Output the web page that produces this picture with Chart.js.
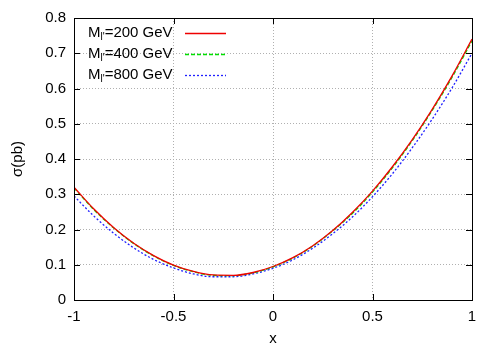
<!DOCTYPE html>
<html>
<head>
<meta charset="utf-8">
<script src="https://cdn.jsdelivr.net/npm/chart.js@4.4.1/dist/chart.umd.min.js"></script>
<style>
  html, body { margin: 0; padding: 0; background: #fff; }
  #chart { display: block; }
</style>
</head>
<body>
<canvas id="chart" width="500" height="350"></canvas>
<script>
// values
const xValues = [-1, -0.9, -0.8, -0.7, -0.6, -0.5, -0.4, -0.3, -0.2, -0.1, 0,
                 0.1, 0.2, 0.3, 0.4, 0.5, 0.6, 0.7, 0.8, 0.9, 1];
const sigma200 = [0.320, 0.258, 0.205, 0.161, 0.126, 0.099, 0.081, 0.071, 0.070, 0.078, 0.095,
                  0.120, 0.154, 0.197, 0.249, 0.309, 0.378, 0.455, 0.541, 0.636, 0.740];
const sigma400 = [0.318, 0.256, 0.204, 0.160, 0.125, 0.098, 0.080, 0.070, 0.069, 0.077, 0.094,
                  0.119, 0.153, 0.196, 0.246, 0.306, 0.375, 0.452, 0.538, 0.632, 0.735];
const sigma800 = [0.295, 0.238, 0.189, 0.148, 0.115, 0.091, 0.074, 0.066, 0.066, 0.074, 0.090,
                  0.114, 0.147, 0.188, 0.236, 0.293, 0.358, 0.432, 0.513, 0.602, 0.700];
const massLabels = ['200', '400', '800'];
const xTicks = [-1, -0.5, 0, 0.5, 1];
const yTicks = [0, 0.1, 0.2, 0.3, 0.4, 0.5, 0.6, 0.7, 0.8];

const FONT = '"Liberation Sans", Arial, sans-serif';
const colors = ['#ee0000', '#00e000', '#2020ff'];
const dashes = [[], [4, 2], [2, 2]];

function toPoints(ys) {
    return xValues.map((x, i) => ({ x: x, y: ys[i] }));
}

// frame, inner tick marks, legend and axis titles (gnuplot look)
const gnuplotDecor = {
    id: 'gnuplotDecor',
    afterDraw(chart) {
        const ctx = chart.ctx;
        const a = chart.chartArea;
        const xs = chart.scales.x, ys = chart.scales.y;
        ctx.save();
        ctx.strokeStyle = '#000';
        ctx.lineWidth = 1;
        ctx.setLineDash([]);
        ctx.beginPath();
        xTicks.forEach(v => {
            const px = Math.round(xs.getPixelForValue(v)) + 0.5;
            ctx.moveTo(px, a.bottom); ctx.lineTo(px, a.bottom - 6);
            ctx.moveTo(px, a.top); ctx.lineTo(px, a.top + 6);
        });
        yTicks.forEach(v => {
            const py = Math.round(ys.getPixelForValue(v)) + 0.5;
            ctx.moveTo(a.left, py); ctx.lineTo(a.left + 6, py);
            ctx.moveTo(a.right, py); ctx.lineTo(a.right - 6, py);
        });
        ctx.stroke();
        ctx.strokeRect(Math.round(a.left) + 0.5, Math.round(a.top) + 0.5,
                       Math.round(a.right - a.left), Math.round(a.bottom - a.top));

        // legend
        ctx.fillStyle = '#000';
        ctx.textBaseline = 'middle';
        massLabels.forEach((m, i) => {
            const y = 33 + i * 21;
            let x = 88;
            ctx.font = '15px ' + FONT;
            ctx.fillText('M', x, y);
            x += ctx.measureText('M').width;
            ctx.font = '10px ' + FONT;
            ctx.fillText("l'", x, y + 4);
            x += ctx.measureText("l'").width;
            ctx.font = '15px ' + FONT;
            ctx.fillText('=' + m + ' GeV', x, y);

            ctx.strokeStyle = colors[i];
            ctx.lineWidth = 1.3;
            ctx.setLineDash(dashes[i]);
            ctx.beginPath();
            ctx.moveTo(185, y + 0.5);
            ctx.lineTo(226, y + 0.5);
            ctx.stroke();
        });

        // axis titles
        ctx.setLineDash([]);
        ctx.fillStyle = '#000';
        ctx.font = '15px ' + FONT;
        ctx.textAlign = 'center';
        ctx.fillText('x', (a.left + a.right) / 2, 339);
        ctx.translate(18, (a.top + a.bottom) / 2);
        ctx.rotate(-Math.PI / 2);
        ctx.fillText('σ(pb)', 0, 0);
        ctx.restore();
    }
};

new Chart(document.getElementById('chart'), {
    type: 'line',
    data: {
        datasets: [sigma200, sigma400, sigma800].map((ys, i) => ({
            label: 'M=' + massLabels[i] + ' GeV',
            data: toPoints(ys),
            borderColor: colors[i],
            borderWidth: 1.3,
            borderDash: dashes[i],
            pointRadius: 0,
            tension: 0.4,
            cubicInterpolationMode: 'monotone',
            fill: false,
        }))
    },
    options: {
        responsive: false,
        animation: false,
        layout: { padding: { top: 18, right: 28, left: 0, bottom: 0 } },
        plugins: {
            legend: { display: false },
            tooltip: { enabled: false },
        },
        scales: {
            x: {
                type: 'linear',
                min: -1,
                max: 1,
                afterBuildTicks: s => { s.ticks = xTicks.map(v => ({ value: v })); },
                afterFit: s => { s.height = 50; },
                grid: {
                    color: '#b0b0b0',
                    lineWidth: 1,
                    drawTicks: false,
                },
                border: { display: false, dash: [1, 2] },
                ticks: {
                    padding: 8,
                    color: '#000',
                    font: { family: FONT, size: 15 },
                    maxRotation: 0,
                    callback: v => String(v),
                },
            },
            y: {
                min: 0,
                max: 0.8,
                afterBuildTicks: s => { s.ticks = yTicks.map(v => ({ value: v })); },
                afterFit: s => { s.width = 74; },
                grid: {
                    color: '#b0b0b0',
                    lineWidth: 1,
                    drawTicks: false,
                },
                border: { display: false, dash: [1, 2] },
                ticks: {
                    padding: 8,
                    color: '#000',
                    font: { family: FONT, size: 15 },
                    callback: v => String(Math.round(v * 10) / 10),
                },
            },
        },
    },
    plugins: [gnuplotDecor],
});
</script>
</body>
</html>
